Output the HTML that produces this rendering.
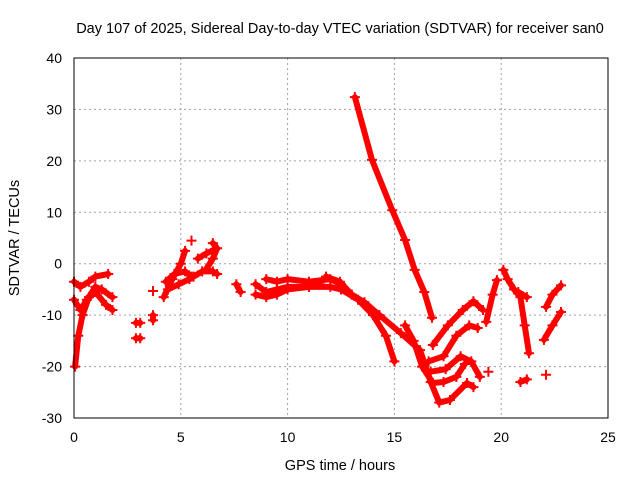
<!DOCTYPE html>
<html><head><meta charset="utf-8"><style>
body{margin:0;background:#fff}
svg{display:block;font-family:"Liberation Sans",sans-serif}
</style></head><body>
<svg id="chart" width="640" height="480">
<rect width="640" height="480" fill="#fff"/>
<text x="340" y="33" text-anchor="middle" font-size="14.5">Day 107 of 2025, Sidereal Day-to-day VTEC variation (SDTVAR) for receiver san0</text>
<text x="340" y="470" text-anchor="middle" font-size="14.5">GPS time / hours</text>
<text transform="translate(19,238) rotate(-90)" text-anchor="middle" font-size="14.5">SDTVAR / TECUs</text>
<g id="grid"></g><g id="ticks"></g><g id="marks"></g>
<rect x="74" y="58" width="534" height="360" fill="none" stroke="#000" stroke-width="1"/>
</svg>
<script>
const xTicks=[0,5,10,15,20,25];
const yTicks=[-30,-20,-10,0,10,20,30,40];
const tracks=[
[[0,-3.5],[0.3,-4.5],[0.7,-3.5],[1,-2.5],[1.6,-2]],
[[0.05,-20],[0.2,-14],[0.4,-10],[0.7,-6.5],[1,-4.5],[1.3,-5],[1.8,-6.5]],
[[0,-7],[0.3,-9],[0.6,-7],[1,-5.5],[1.5,-8],[1.8,-9]],
[[2.9,-11.5],[3.1,-11.5]],[[2.9,-14.5],[3.1,-14.5]],[[3.7,-5.3]],[[3.7,-10],[3.7,-11]],
[[4.2,-6.5],[4.6,-3],[5.0,0],[5.2,2.5]],
[[4.3,-3.5],[4.7,-2],[5.2,-1.5],[5.5,-2.5]],
[[4.4,-5],[4.9,-4],[5.4,-3]],[[5.5,4.5]],
[[5.6,-2.5],[6,-1.5],[6.5,-1.5],[6.7,-2]],
[[5.8,1],[6.2,2],[6.6,2.8]],
[[6.2,-1],[6.5,1],[6.7,3],[6.5,4]],
[[7.6,-4],[7.8,-5.5]],
[[8.5,-4],[9,-5.5],[9.5,-5],[10,-4.5],[11,-4.5],[12,-4.5],[12.5,-5]],
[[8.5,-6],[9,-6.5],[9.5,-6],[10,-5],[11,-4.5],[11.5,-4]],
[[9,-3],[9.5,-3.5],[10,-3],[11,-3.5],[12,-3],[12.5,-4],[13,-6]],
[[11.8,-2.5],[12.45,-3.5],[13,-6],[13.6,-7.5],[14.3,-10],[15.3,-13.5],[16.2,-16.8],[16.7,-23],[17.1,-27],[17.6,-26.5],[18.4,-23.2],[18.7,-24]],
[[12.5,-5],[13.3,-7],[14,-10],[14.6,-14],[15,-19]],
[[13.15,32.4],[13.95,20.2],[14.9,10.4],[15.5,4.6],[15.95,-1.2],[16.4,-5.5],[16.76,-10.5]],
[[15.5,-12],[15.9,-15],[16.3,-20],[16.8,-23.2],[17.3,-23],[17.9,-22],[18.3,-19.5]],
[[16.8,-15.8],[17.5,-12],[18.2,-9],[18.7,-7.3],[19.15,-9]],
[[16.6,-19],[17.3,-18],[17.9,-14],[18.5,-12],[18.9,-12.5]],
[[16.7,-21],[17.4,-20.5],[18.1,-18],[18.6,-19],[19,-22]],
[[19.4,-21]],
[[19.3,-11.3],[19.6,-6],[19.8,-3.2]],
[[20.1,-1.2],[20.3,-3],[20.6,-5],[20.9,-6.5],[21.1,-12],[21.3,-17.4]],
[[20.8,-5.5],[21.2,-6.5]],[[20.9,-23],[21.2,-22.5]],[[22.1,-21.6]],
[[22.1,-8.4],[22.4,-6],[22.8,-4.2]],
[[22.0,-14.8],[22.4,-12],[22.8,-9.4]]
];
const NS="http://www.w3.org/2000/svg";
const X=h=>74+h*534/25, Y=v=>58+(40-v)*360/70;
const grid=document.getElementById('grid'),ticks=document.getElementById('ticks'),marks=document.getElementById('marks');
function mk(tag,attrs,parent){const e=document.createElementNS(NS,tag);for(const k in attrs)e.setAttribute(k,attrs[k]);parent.appendChild(e);return e;}
xTicks.forEach(t=>{
 if(t>0&&t<25){const g=mk('line',{x1:X(t),x2:X(t),y1:58,y2:418,stroke:'#a0a0a0','stroke-dasharray':'2,3'},grid);
 
 }
 const l=mk('text',{x:X(t),y:442,'text-anchor':'middle','font-size':'14'},ticks);l.textContent=t;
 
 
});
yTicks.forEach(t=>{
 if(t>-30&&t<40){const g=mk('line',{x1:74,x2:608,y1:Y(t),y2:Y(t),stroke:'#a0a0a0','stroke-dasharray':'2,3'},grid);
 
 }
 const l=mk('text',{x:62,y:Y(t)+5,'text-anchor':'end','font-size':'14'},ticks);l.textContent=t;
 
 
});
tracks.forEach(tr=>{
 const g=mk('g',{},marks);
 
 
 if(tr.length>1){mk('polyline',{points:tr.map(p=>X(p[0])+','+Y(p[1])).join(' '),fill:'none',stroke:'#f00','stroke-width':6,'stroke-linejoin':'round','stroke-linecap':'round'},g);}
 tr.forEach(p=>{const x=X(p[0]),y=Y(p[1]);
  mk('path',{d:`M${x-5},${y}H${x+5}M${x},${y-5}V${y+5}`,stroke:'#f00','stroke-width':2},g);});
});
</script>
</body></html>
